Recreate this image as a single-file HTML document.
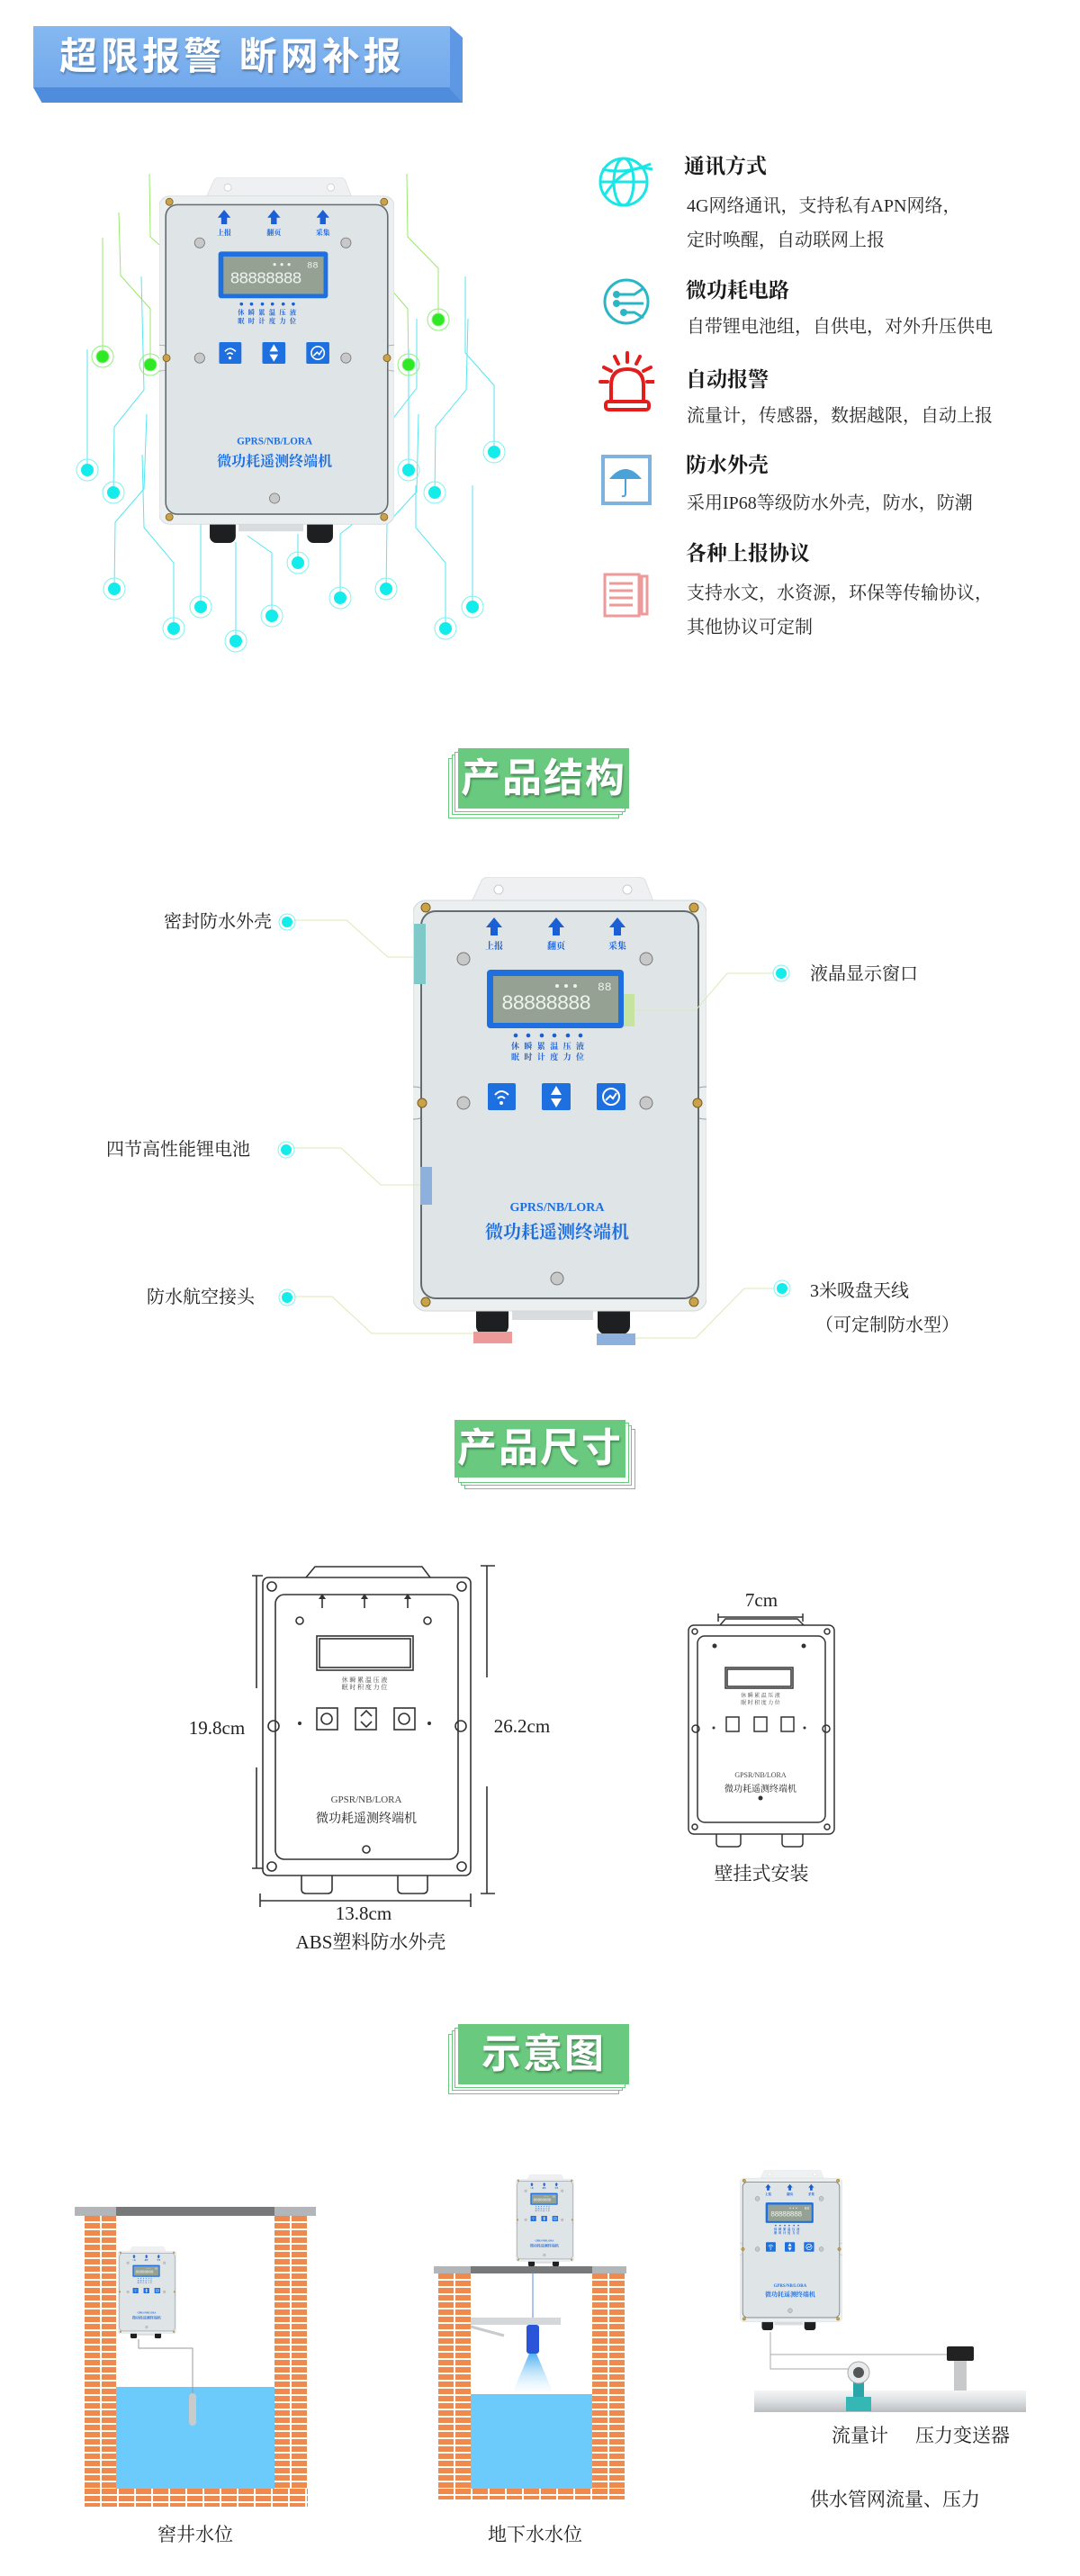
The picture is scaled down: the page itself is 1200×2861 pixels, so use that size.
<!DOCTYPE html>
<html><head><meta charset="utf-8">
<style>
*{margin:0;padding:0;box-sizing:border-box}
body{width:1200px;height:2861px;background:#fff;position:relative;overflow:hidden;font-family:"Liberation Serif","Noto Serif CJK SC",serif;color:#222}
.a{position:absolute;white-space:nowrap}
.ft{font-size:23px;font-weight:bold;color:#1a1a1a}
.fd{font-size:20px;color:#2a2a2a}
.lbl{font-size:20px;color:#222;line-height:24px}
.hd{position:absolute;width:190px;height:67px;background:#69c97e;color:#fff;font:bold 44px/67px "Liberation Sans","Noto Sans CJK SC",sans-serif;text-align:center;letter-spacing:2px;text-shadow:1px 2px 2px rgba(0,0,0,.35)}
.ol{position:absolute;width:190px;height:67px;border:1.5px solid #69c97e;background:#fff}
.brick{position:absolute;background-color:#fff;background-image:repeating-linear-gradient(to bottom,transparent 0 6px,#fff 6px 8px),repeating-linear-gradient(to right,#ef8a4c 0 17px,#fff 17px 19px)}
</style></head><body>

<!-- banner -->
<div class="a" style="left:37px;top:29px;width:477px;height:85px;background:linear-gradient(#85b8f0,#6ea6ec);clip-path:polygon(0 0,97% 0,100% 15%,100% 100%,2% 100%,0 80%)"></div>
<div class="a" style="left:37px;top:97px;width:477px;height:17px;background:#4f8ddc;clip-path:polygon(0 0,97% 0,100% 100%,2% 100%)"></div>
<div class="a" style="left:500px;top:29px;width:14px;height:85px;background:#5e98e4;clip-path:polygon(0 0,100% 15%,100% 100%,0 82%)"></div>
<div class="a" style="left:66px;top:38px;font:bold 42px/50px 'Liberation Sans','Noto Sans CJK SC',sans-serif;color:#fff;letter-spacing:4px;text-shadow:1px 2px 2px rgba(0,0,0,.3)">超限报警 断网补报</div>

<!-- circuit lines & dots -->
<svg class="a" style="left:0;top:0" width="600" height="760">
<g fill="none" stroke-width="1">
<g stroke="#9be86e">
<polyline points="114,264 114,396"/>
<polyline points="132,236 134,306 167,343 167,405"/>
<polyline points="166,193 167,263 177,272"/>
<polyline points="452,193 453,263 487,298 487,355"/>
<polyline points="435,322 453,343 454,405"/>
</g>
<g stroke="#55e6f0">
<polyline points="97,388 97,522"/>
<polyline points="157,307 160,433 127,474 126,547"/>
<polyline points="517,307 517,392 549,428 549,502"/>
<polyline points="463,354 463,431 435,467"/>
<polyline points="520,354 518,433 484,474 483,547"/>
<polyline points="454,388 454,522"/>
<polyline points="163,460 160,543 128,580 127,654"/>
<polyline points="158,505 160,586 193,625 193,698"/>
<polyline points="223,582 223,674"/>
<polyline points="262,602 262,712"/>
<polyline points="275,595 302,614 302,684"/>
<polyline points="331,593 331,625"/>
<polyline points="397,578 378,593 378,664"/>
<polyline points="465,460 463,546 430,582 429,654"/>
<polyline points="462,539 462,586 495,625 495,698"/>
<polyline points="525,539 525,674"/>
</g></g>
<g fill="#2fe826" stroke="#8ff07a" stroke-width="1">
<circle cx="114" cy="396" r="7"/><circle cx="167" cy="405" r="7"/><circle cx="487" cy="355" r="7"/><circle cx="454" cy="405" r="7"/>
</g>
<g fill="none" stroke="#8ff07a" stroke-width="1">
<circle cx="114" cy="396" r="12"/><circle cx="167" cy="405" r="12"/><circle cx="487" cy="355" r="12"/><circle cx="454" cy="405" r="12"/>
</g>
<g fill="#14ecec">
<circle cx="97" cy="522" r="7"/><circle cx="126" cy="547" r="7"/><circle cx="549" cy="502" r="7"/><circle cx="454" cy="522" r="7"/><circle cx="483" cy="547" r="7"/><circle cx="127" cy="654" r="7"/><circle cx="331" cy="625" r="7"/><circle cx="223" cy="674" r="7"/><circle cx="302" cy="684" r="7"/><circle cx="193" cy="698" r="7"/><circle cx="262" cy="712" r="7"/><circle cx="378" cy="664" r="7"/><circle cx="429" cy="654" r="7"/><circle cx="525" cy="674" r="7"/><circle cx="495" cy="698" r="7"/>
</g>
<g fill="none" stroke="#7ff2f2" stroke-width="1">
<circle cx="97" cy="522" r="12"/><circle cx="126" cy="547" r="12"/><circle cx="549" cy="502" r="12"/><circle cx="454" cy="522" r="12"/><circle cx="483" cy="547" r="12"/><circle cx="127" cy="654" r="12"/><circle cx="331" cy="625" r="12"/><circle cx="223" cy="674" r="12"/><circle cx="302" cy="684" r="12"/><circle cx="193" cy="698" r="12"/><circle cx="262" cy="712" r="12"/><circle cx="378" cy="664" r="12"/><circle cx="429" cy="654" r="12"/><circle cx="525" cy="674" r="12"/><circle cx="495" cy="698" r="12"/>
</g>
</svg>

<!-- device template usage -->
<div id="d1" class="a" style="left:177px;top:197px;width:261px;height:406px"></div>

<!-- features -->
<svg class="a" style="left:665px;top:170px" width="62" height="520">
<g fill="none" stroke="#19e6e6" stroke-width="3">
<circle cx="28" cy="32" r="26"/><ellipse cx="28" cy="32" rx="11" ry="26"/><line x1="2" y1="32" x2="54" y2="32"/><path d="M6 48 Q30 10 60 18"/><path d="M4 18 Q30 24 58 12"/>
</g>
<g fill="none" stroke="#2bb6c6" stroke-width="3">
<circle cx="31" cy="165" r="24"/><path d="M20 157 H40 L50 150 M20 167 H50 M28 177 H40 L50 183"/>
</g>
<g fill="#2bb6c6"><circle cx="20" cy="157" r="4"/><circle cx="20" cy="167" r="4"/><circle cx="28" cy="177" r="4"/></g>
<g fill="none" stroke="#e31c1c" stroke-width="4" stroke-linecap="round">
<path d="M14 276 V258 Q14 240 32 240 Q50 240 50 258 V276"/><rect x="8" y="276" width="48" height="9" rx="3"/>
<line x1="32" y1="222" x2="32" y2="232"/><line x1="18" y1="226" x2="22" y2="234"/><line x1="46" y1="226" x2="42" y2="234"/><line x1="6" y1="238" x2="14" y2="242"/><line x1="58" y1="238" x2="50" y2="242"/><line x1="2" y1="254" x2="10" y2="254"/><line x1="62" y1="254" x2="54" y2="254"/>
</g>
<rect x="5" y="337" width="52" height="52" fill="none" stroke="#7fb2de" stroke-width="4"/>
<path d="M12 362 Q30 340 48 362 Z" fill="#4aa2d8"/><path d="M30 362 V378 Q30 382 26 381" fill="none" stroke="#4aa2d8" stroke-width="2"/>
<g fill="none" stroke="#ef9a9a" stroke-width="3">
<rect x="7" y="468" width="38" height="46"/><path d="M12 478 H38 M12 486 H38 M12 494 H38 M12 502 H38"/><rect x="48" y="470" width="6" height="42"/>
</g>
</svg>
<div class="a ft" style="left:760px;top:166px">通讯方式</div>
<div class="a fd" style="left:763px;top:212px">4G网络通讯，支持私有APN网络，</div>
<div class="a fd" style="left:763px;top:250px">定时唤醒，自动联网上报</div>
<div class="a ft" style="left:762px;top:304px">微功耗电路</div>
<div class="a fd" style="left:763px;top:346px">自带锂电池组，自供电，对外升压供电</div>
<div class="a ft" style="left:762px;top:403px">自动报警</div>
<div class="a fd" style="left:763px;top:445px">流量计，传感器，数据越限，自动上报</div>
<div class="a ft" style="left:762px;top:498px">防水外壳</div>
<div class="a fd" style="left:763px;top:542px">采用IP68等级防水外壳，防水，防潮</div>
<div class="a ft" style="left:762px;top:596px">各种上报协议</div>
<div class="a fd" style="left:763px;top:642px">支持水文，水资源，环保等传输协议，</div>
<div class="a fd" style="left:763px;top:680px">其他协议可定制</div>

<!-- header 产品结构 -->
<div class="ol" style="left:498px;top:842px"></div><div class="ol" style="left:502px;top:838px"></div><div class="ol" style="left:505px;top:835px"></div>
<div class="hd" style="left:509px;top:831px">产品结构</div>

<!-- structure device -->
<div id="d2" class="a" style="left:459px;top:974px;width:326px;height:508px"></div>
<div class="a" style="left:460px;top:1026px;width:13px;height:67px;background:#7fcac8"></div>
<div class="a" style="left:693px;top:1104px;width:12px;height:36px;background:#c6e3a0"></div>
<div class="a" style="left:467px;top:1296px;width:13px;height:42px;background:#8eb0dc"></div>
<div class="a" style="left:526px;top:1479px;width:43px;height:13px;background:#ef9a9a"></div>
<div class="a" style="left:663px;top:1481px;width:43px;height:13px;background:#8eb0dc"></div>
<svg class="a" style="left:0;top:1000px" width="1200" height="520">
<g fill="none" stroke="#dbe9b8" stroke-width="1">
<polyline points="327,22 385,22 431,63 460,63"/>
<polyline points="327,275 379,275 423,316 467,316"/>
<polyline points="327,440 369,440 413,481 526,481"/>
<polyline points="860,81 808,81 773,122 705,122"/>
<polyline points="860,431 827,431 773,486 706,486"/>
</g>
<g fill="#14ecec"><circle cx="319" cy="24" r="6"/><circle cx="318" cy="277" r="6"/><circle cx="319" cy="441" r="6"/><circle cx="868" cy="81" r="6"/><circle cx="869" cy="431" r="6"/></g>
<g fill="none" stroke="#7ff2f2"><circle cx="319" cy="24" r="9"/><circle cx="318" cy="277" r="9"/><circle cx="319" cy="441" r="9"/><circle cx="868" cy="81" r="9"/><circle cx="869" cy="431" r="9"/></g>
</svg>
<div class="a lbl" style="right:898px;top:1012px">密封防水外壳</div>
<div class="a lbl" style="right:922px;top:1265px">四节高性能锂电池</div>
<div class="a lbl" style="right:917px;top:1429px">防水航空接头</div>
<div class="a lbl" style="left:900px;top:1070px">液晶显示窗口</div>
<div class="a lbl" style="left:900px;top:1422px">3米吸盘天线</div>
<div class="a lbl" style="left:906px;top:1460px">（可定制防水型）</div>

<!-- header 产品尺寸 -->
<div class="ol" style="left:516px;top:1587px"></div><div class="ol" style="left:512px;top:1583px"></div><div class="ol" style="left:509px;top:1580px"></div>
<div class="hd" style="left:505px;top:1577px;height:64px;line-height:64px">产品尺寸</div>

<!-- dimension drawings -->
<svg class="a" style="left:0;top:1700px" width="1200" height="480" font-family="Liberation Serif,Noto Serif CJK SC,serif">
<g fill="none" stroke="#333" stroke-width="1.6">
<path d="M340 52 L350 40 H469 L478 52"/>
<rect x="292" y="52" width="231" height="331" rx="6"/>
<rect x="306" y="71" width="203" height="294" rx="10"/>
<path d="M335 383 V398 Q335 403 340 403 H364 Q369 403 369 398 V383 M442 383 V398 Q442 403 447 403 H470 Q475 403 475 398 V383"/>
<rect x="352" y="117" width="107" height="38"/><rect x="355" y="120" width="101" height="32"/>
<rect x="352" y="197" width="23" height="24"/><rect x="395" y="197" width="23" height="24"/><rect x="438" y="197" width="23" height="24"/>
<circle cx="302" cy="62" r="5"/><circle cx="513" cy="62" r="5"/><circle cx="302" cy="373" r="5"/><circle cx="513" cy="373" r="5"/><circle cx="304" cy="217" r="6"/><circle cx="512" cy="217" r="6"/>
<circle cx="333" cy="100" r="4"/><circle cx="475" cy="100" r="4"/><circle cx="407" cy="354" r="4"/>
<circle cx="363" cy="209" r="6"/><circle cx="449" cy="209" r="6"/><path d="M401 206 L407 200 L413 206 M401 212 L407 218 L413 212"/>
<path d="M358 86 V73 M405 86 V73 M453 86 V73"/>
<path d="M285 50 V175 M285 263 V375 M280 50 H292 M280 375 H292"/>
<path d="M541 39 V163 M541 284 V403 M534 39 H550 M534 403 H550"/>
<path d="M289 411 H523 M289 403 V418 M523 403 V418"/>
</g>
<g fill="#333"><path d="M354 76 L358 70 L362 76Z M401 76 L405 70 L409 76Z M449 76 L453 70 L457 76Z"/><circle cx="333" cy="214" r="2"/><circle cx="477" cy="214" r="2"/></g>
<text x="407" y="302" font-size="11" fill="#444" text-anchor="middle">GPSR/NB/LORA</text>
<text x="407" y="324" font-size="14" fill="#222" text-anchor="middle">微功耗遥测终端机</text>
<text x="405" y="168" font-size="7" fill="#444" text-anchor="middle">休 瞬 累 温 压 液</text>
<text x="405" y="176" font-size="7" fill="#444" text-anchor="middle">眠 时 积 度 力 位</text>
<text x="241" y="226" font-size="21" fill="#222" text-anchor="middle">19.8cm</text>
<text x="580" y="224" font-size="21" fill="#222" text-anchor="middle">26.2cm</text>
<text x="404" y="432" font-size="21" fill="#222" text-anchor="middle">13.8cm</text>
<text x="412" y="464" font-size="21" fill="#222" text-anchor="middle">ABS塑料防水外壳</text>
<!-- small -->
<g fill="none" stroke="#333" stroke-width="1.5">
<path d="M800 105 L806 98 H886 L893 105"/>
<path d="M798 96 H892 M798 92 V101 M892 92 V101"/>
<rect x="765" y="105" width="162" height="232" rx="6"/>
<rect x="775" y="117" width="142" height="207" rx="8"/>
<rect x="806" y="152" width="75" height="23"/><rect x="808" y="154" width="71" height="19"/>
<rect x="807" y="207" width="14" height="16"/><rect x="838" y="207" width="14" height="16"/><rect x="868" y="207" width="14" height="16"/>
<path d="M796 337 V347 Q796 351 800 351 H819 Q823 351 823 347 V337 M869 337 V347 Q869 351 873 351 H888 Q892 351 892 347 V337"/>
<circle cx="772" cy="112" r="3"/><circle cx="919" cy="112" r="3"/><circle cx="772" cy="329" r="3"/><circle cx="919" cy="329" r="3"/><circle cx="773" cy="220" r="4"/><circle cx="918" cy="220" r="4"/>
</g>
<g fill="#333"><circle cx="794" cy="128" r="2.5"/><circle cx="893" cy="128" r="2.5"/><circle cx="845" cy="297" r="2.5"/><circle cx="793" cy="219" r="1.5"/><circle cx="894" cy="219" r="1.5"/></g>
<text x="845" y="274" font-size="8" fill="#444" text-anchor="middle">GPSR/NB/LORA</text>
<text x="845" y="290" font-size="10" fill="#222" text-anchor="middle">微功耗遥测终端机</text>
<text x="845" y="185" font-size="6" fill="#444" text-anchor="middle">休 瞬 累 温 压 液</text>
<text x="845" y="193" font-size="6" fill="#444" text-anchor="middle">眠 时 积 度 力 位</text>
<text x="846" y="84" font-size="21" fill="#222" text-anchor="middle">7cm</text>
<text x="846" y="388" font-size="21" fill="#222" text-anchor="middle">壁挂式安装</text>
</svg>

<!-- header 示意图 -->
<div class="ol" style="left:498px;top:2259px"></div><div class="ol" style="left:502px;top:2255px"></div><div class="ol" style="left:505px;top:2252px"></div>
<div class="hd" style="left:509px;top:2248px">示意图</div>

<!-- left well -->
<div class="a" style="left:83px;top:2451px;width:268px;height:10px;background:#b3b6b8"></div>
<div class="a" style="left:129px;top:2451px;width:176px;height:10px;background:#767879"></div>
<div class="brick" style="left:94px;top:2461px;width:35px;height:323px"></div>
<div class="brick" style="left:305px;top:2461px;width:37px;height:323px"></div>
<div class="brick" style="left:94px;top:2764px;width:248px;height:20px"></div>
<div class="a" style="left:129px;top:2651px;width:176px;height:113px;background:#6ccbfb"></div>
<svg class="a" style="left:0;top:2590px" width="400" height="120"><polyline points="154,8 154,18 214,18 214,70" fill="none" stroke="#999"/><rect x="210" y="68" width="8" height="36" rx="4" fill="#c8cbcc"/></svg>
<div id="d3" class="a" style="left:131px;top:2495px;width:65px;height:102px"></div>
<div class="a lbl" style="left:175px;top:2803px;font-size:21px">窖井水位</div>

<!-- middle -->
<div class="a" style="left:482px;top:2517px;width:214px;height:8px;background:#b3b6b8"></div>
<div class="a" style="left:523px;top:2517px;width:135px;height:8px;background:#767879"></div>
<div class="brick" style="left:487px;top:2525px;width:36px;height:251px"></div>
<div class="brick" style="left:658px;top:2525px;width:36px;height:251px"></div>
<div class="brick" style="left:487px;top:2764px;width:207px;height:12px"></div>
<div class="a" style="left:523px;top:2659px;width:135px;height:105px;background:#6ccbfb"></div>
<svg class="a" style="left:480px;top:2520px" width="220" height="140">
<line x1="112" y1="4" x2="112" y2="54" stroke="#5a8ae0"/>
<rect x="43" y="54" width="100" height="8" fill="#d5d8da"/><line x1="43" y1="64" x2="80" y2="74" stroke="#c8cbcd" stroke-width="3"/>
<defs><linearGradient id="cone" x1="0" y1="0" x2="0" y2="1"><stop offset="0" stop-color="#4fb0f0"/><stop offset="1" stop-color="#e6f6ff" stop-opacity=".2"/></linearGradient></defs>
<path d="M108 94 L116 94 L134 136 L90 136Z" fill="url(#cone)"/>
<rect x="105" y="62" width="14" height="32" rx="3" fill="#2a55d8"/>
</svg>
<div id="d4" class="a" style="left:573px;top:2415px;width:65px;height:102px"></div>
<div class="a lbl" style="left:542px;top:2803px;font-size:21px">地下水水位</div>

<!-- right -->
<svg class="a" style="left:820px;top:2580px" width="340" height="110">
<polyline points="36,10 36,51 124,51" fill="none" stroke="#aaa"/><polyline points="36,35 235,35" fill="none" stroke="#aaa"/>
<defs><linearGradient id="pp" x1="0" y1="0" x2="0" y2="1"><stop offset="0" stop-color="#f4f5f6"/><stop offset=".5" stop-color="#dcdfe1"/><stop offset="1" stop-color="#b9bdc0"/></linearGradient></defs>
<rect x="18" y="75" width="302" height="24" fill="url(#pp)"/>
<rect x="128" y="66" width="12" height="30" fill="#2aa5a8"/><rect x="120" y="82" width="28" height="16" fill="#35b7b5"/>
<circle cx="134" cy="55" r="12" fill="#e8eaeb" stroke="#aaa"/><circle cx="134" cy="55" r="6" fill="#555"/>
<rect x="232" y="26" width="30" height="16" rx="2" fill="#222"/><rect x="240" y="42" width="14" height="33" fill="#c7c9cb"/>
</svg>
<div id="d5" class="a" style="left:822px;top:2410px;width:114px;height:178px"></div>
<div class="a lbl" style="left:924px;top:2693px;font-size:21px">流量计</div>
<div class="a lbl" style="left:1017px;top:2693px;font-size:21px">压力变送器</div>
<div class="a lbl" style="left:900px;top:2764px;font-size:21px">供水管网流量、压力</div>

<script>
var dev='<svg viewBox="0 0 326 508" width="100%" height="100%" preserveAspectRatio="none" font-family="Liberation Serif,Noto Serif CJK SC,serif">'+
'<path d="M64 30 L76 4 Q78 0 86 0 L248 0 Q256 0 258 4 L268 30Z" fill="#eef0f1" stroke="#dcdfe1"/>'+
'<circle cx="95" cy="14" r="5" fill="#fff" stroke="#ccc"/><circle cx="238" cy="14" r="5" fill="#fff" stroke="#ccc"/>'+
'<rect x="70" y="470" width="36" height="38" rx="9" fill="#1d1f21"/><rect x="205" y="470" width="36" height="38" rx="9" fill="#1d1f21"/>'+
'<rect x="110" y="478" width="90" height="14" fill="#d9dcde"/>'+
'<rect x="0" y="26" width="326" height="456" rx="14" fill="#eceff0" stroke="#d2d7da"/>'+
'<circle cx="2" cy="251" r="18" fill="#eceff0" stroke="#9aa1a4"/><circle cx="324" cy="251" r="18" fill="#eceff0" stroke="#9aa1a4"/>'+
'<rect x="9" y="38" width="308" height="430" rx="16" fill="#dfe5e7" stroke="#646c70" stroke-width="2"/>'+
'<g fill="#c9a24a" stroke="#7a5d20"><circle cx="14" cy="34" r="5"/><circle cx="312" cy="34" r="5"/><circle cx="14" cy="472" r="5"/><circle cx="312" cy="472" r="5"/><circle cx="10" cy="251" r="5"/><circle cx="316" cy="251" r="5"/></g>'+
'<g fill="#c8c8c8" stroke="#777"><circle cx="56" cy="91" r="7"/><circle cx="259" cy="91" r="7"/><circle cx="56" cy="251" r="7"/><circle cx="259" cy="251" r="7"/><circle cx="160" cy="446" r="7"/></g>'+
'<g fill="#1a5fd6"><path d="M86 65 V56 H81 L90 45 L99 56 H94 V65Z"/><path d="M155 65 V56 H150 L159 45 L168 56 H163 V65Z"/><path d="M223 65 V56 H218 L227 45 L236 56 H231 V65Z"/></g>'+
'<g font-size="10" font-weight="bold" fill="#1a5fd6" text-anchor="middle"><text x="90" y="80">上报</text><text x="159" y="80">翻页</text><text x="227" y="80">采集</text></g>'+
'<rect x="82" y="103" width="152" height="65" rx="4" fill="#1e6fe0"/><rect x="89" y="110" width="139" height="52" fill="#95a293"/>'+
'<text x="98" y="147" font-family="Liberation Mono,monospace" font-size="23" fill="#eef2ee" textLength="100">88888888</text>'+
'<text x="205" y="126" font-family="Liberation Mono,monospace" font-size="13" fill="#eef2ee">88</text>'+
'<g fill="#eef2ee"><circle cx="160" cy="121" r="2"/><circle cx="170" cy="121" r="2"/><circle cx="180" cy="121" r="2"/></g>'+
'<g fill="#1a5fd6"><circle cx="114" cy="176" r="2.3"/><circle cx="128" cy="176" r="2.3"/><circle cx="143" cy="176" r="2.3"/><circle cx="157" cy="176" r="2.3"/><circle cx="172" cy="176" r="2.3"/><circle cx="186" cy="176" r="2.3"/></g>'+
'<g font-size="9" font-weight="bold" fill="#1a5fd6"><text x="109" y="191" letter-spacing="5.4">休瞬累温压液</text><text x="109" y="203" letter-spacing="5.4">眠时计度力位</text></g>'+
'<g fill="#1e6fe0"><rect x="83" y="229" width="31" height="30" rx="2"/><rect x="143" y="229" width="32" height="30" rx="2"/><rect x="204" y="229" width="32" height="30" rx="2"/></g>'+
'<g fill="none" stroke="#fff" stroke-width="2"><path d="M91 242 Q98 234 106 242 M94 246 Q98 242 102 246"/><circle cx="220" cy="244" r="9"/><path d="M214 248 L219 243 L222 246 L226 240"/></g>'+
'<g fill="#fff"><circle cx="98" cy="251" r="2"/><path d="M159 232 L165 242 H153Z M159 256 L165 246 H153Z"/></g>'+
'<text x="160" y="371" font-size="14" font-weight="bold" fill="#1e6fe0" text-anchor="middle">GPRS/NB/LORA</text>'+
'<text x="160" y="401" font-size="20" font-weight="bold" fill="#1e6fe0" text-anchor="middle">微功耗遥测终端机</text>'+
'</svg>';
['d1','d2','d3','d4','d5'].forEach(function(i){document.getElementById(i).innerHTML=dev;});
</script>
</body></html>
